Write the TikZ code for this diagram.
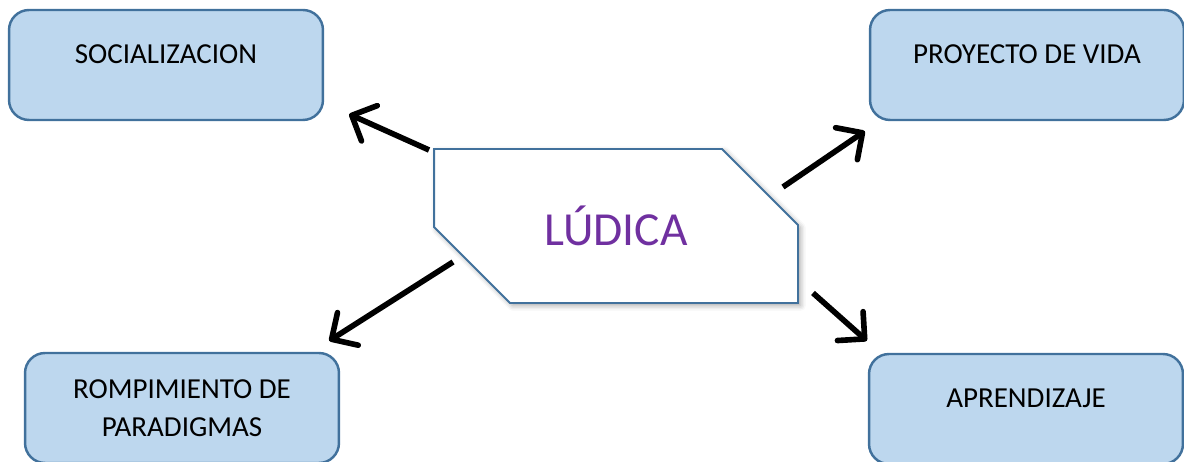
\documentclass[tikz,border=0pt]{standalone}
\usepackage{fontspec}
\setmainfont{Carlito}
\usetikzlibrary{calc,arrows.meta,shadows.blur,backgrounds}
\definecolor{boxfill}{RGB}{189,215,238}
\definecolor{boxline}{RGB}{65,113,156}
\definecolor{ludicatext}{RGB}{112,48,160}
\tikzset{ b/.style = { rectangle % box
        , rounded corners = 0.4cm
        , draw = boxline
        , line width = 1.4pt
        , fill = boxfill
        , minimum width = 6.28cm
        , minimum height = 2.2cm
        , align = center
        , font = \fontsize{16.5}{21.5}\selectfont
        }
        , t/.style = { text height = 12pt % text sits high
        , text depth = 13.8pt
        }
        }

\begin{document}
\begin{tikzpicture}[x=0.02cm, y=-0.02cm,
        main_node_style/.style={rectangle, outer sep=0pt, minimum width=7.28cm, minimum height=3.08cm,
            text=ludicatext, font=\fontsize{27}{32}\selectfont},
        main_shape_style/.style={draw=boxline, line width=1.1pt, fill=white,
            blur shadow={shadow xshift=1.5pt, shadow yshift=-1.5pt, shadow blur radius=3pt, shadow opacity=35}},
        edge_style/.style={draw=black, line width=3.2pt, -{Straight Barb[length=11pt,width=22pt,round]}}]
        \useasboundingbox (0,0) rectangle (1184,462);

        \node [main_node_style](ludica) at (616,226) {LÚDICA};
        \begin{scope}[on background layer]
            \draw [main_shape_style] (ludica.north west) -- ([xshift=-1.52cm]ludica.north east)
                -- ([yshift=-1.52cm]ludica.north east) -- (ludica.south east)
                -- ([xshift=1.52cm]ludica.south west) -- ([yshift=1.52cm]ludica.south west) -- cycle;
        \end{scope}
        \node [b,t](soc) at (166,65) {SOCIALIZACION};
        \node [b,t](pro) at (1027,65) {PROYECTO DE VIDA};
        \node [b](rom) at (182,408) {ROMPIMIENTO DE\\PARADIGMAS};
        \node [b,t](apr) at (1026,409) {APRENDIZAJE};

        \draw [edge_style] ($(ludica.north west)+(-5,1)$) -- ($(soc.south east)+(25,-7)$);
        \draw [edge_style] ($(ludica.east)+(-15,-39)$) -- ($(pro.south west)+(-4,10)$);
        \draw [edge_style] ($(ludica.south west)+(19,-41)$) -- ($(rom.north east)+(-11,-11)$);
        \draw [edge_style] ($(ludica.south east)+(15,-10)$) -- ($(apr.north west)+(-1,-12)$);
\end{tikzpicture}
\end{document}
